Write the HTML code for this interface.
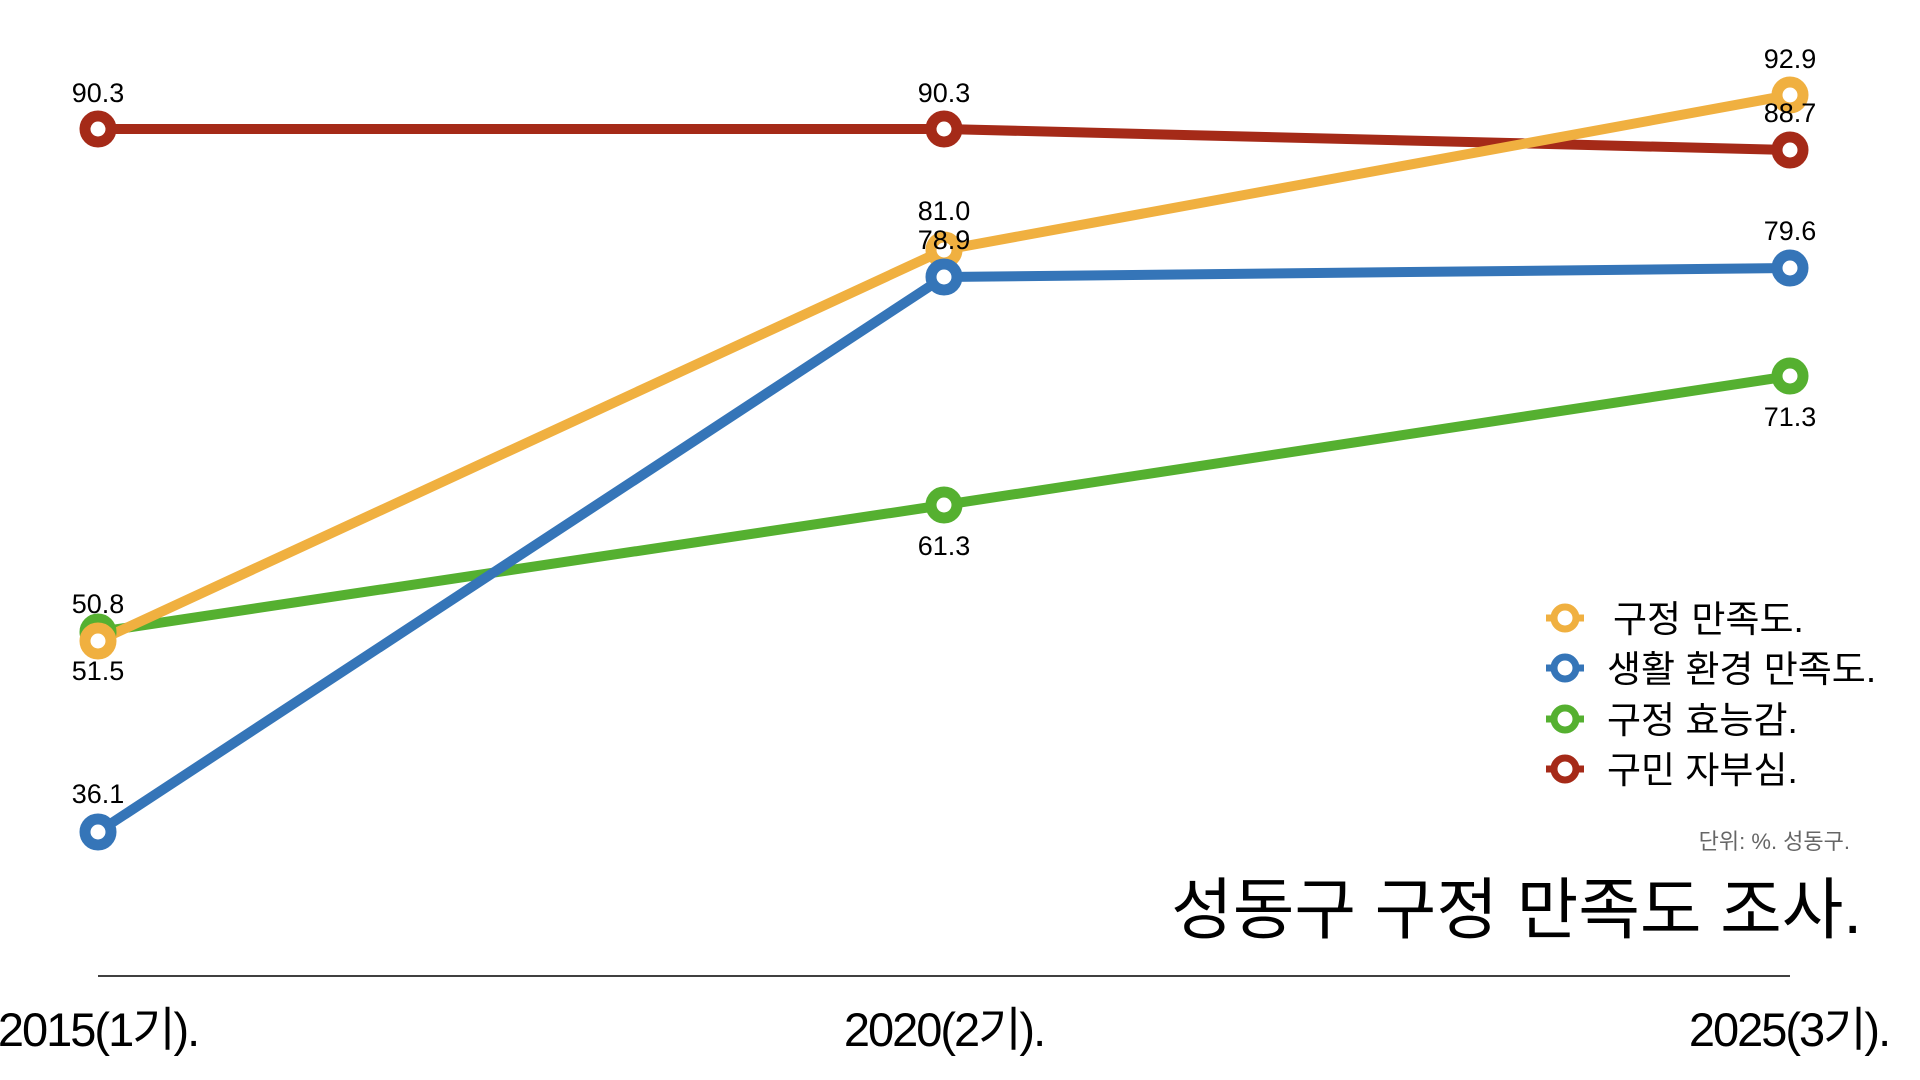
<!DOCTYPE html>
<html><head><meta charset="utf-8"><style>
html,body{margin:0;padding:0;background:#fff;width:1920px;height:1080px;overflow:hidden}
svg text{font-family:"Liberation Sans","Noto Sans CJK KR",sans-serif;fill:#000}
</style></head><body>
<svg width="1920" height="1080" viewBox="0 0 1920 1080" xmlns="http://www.w3.org/2000/svg">
<g fill="none" stroke-width="10" stroke-linejoin="round">
<polyline stroke="#A52A18" points="98,129 944,129 1790,150"/>
<polyline stroke="#55B030" points="98,632 944,505 1790,376"/>
<polyline stroke="#F0B040" points="98,641 944,250 1790,95"/>
<polyline stroke="#3575B8" points="98,832 944,277 1790,268"/>
</g>
<g fill="#fff" stroke-width="11">
<g stroke="#A52A18"><circle cx="98" cy="129" r="13"/><circle cx="944" cy="129" r="13"/><circle cx="1790" cy="150" r="13"/></g>
<g stroke="#55B030"><circle cx="98" cy="632" r="13"/><circle cx="944" cy="505" r="13"/><circle cx="1790" cy="376" r="13"/></g>
<g stroke="#F0B040"><circle cx="98" cy="641" r="13"/><circle cx="944" cy="250" r="13"/><circle cx="1790" cy="95" r="13"/></g>
<g stroke="#3575B8"><circle cx="98" cy="832" r="13"/><circle cx="944" cy="277" r="13"/><circle cx="1790" cy="268" r="13"/></g>
</g>
<g font-size="27" text-anchor="middle">
<text x="98" y="102">90.3</text><text x="944" y="102">90.3</text>
<text x="1790" y="68">92.9</text><text x="1790" y="122">88.7</text>
<text x="944" y="220">81.0</text><text x="944" y="249">78.9</text>
<text x="1790" y="240">79.6</text><text x="1790" y="426">71.3</text>
<text x="944" y="555">61.3</text>
<text x="98" y="613">50.8</text><text x="98" y="680">51.5</text>
<text x="98" y="803">36.1</text>
</g>
<g stroke-width="7" fill="#fff">
<g stroke="#F0B040"><line x1="1546" y1="618" x2="1584" y2="618"/><circle cx="1565" cy="618" r="11"/></g>
<g stroke="#3575B8"><line x1="1546" y1="668" x2="1584" y2="668"/><circle cx="1565" cy="668" r="11"/></g>
<g stroke="#55B030"><line x1="1546" y1="719" x2="1584" y2="719"/><circle cx="1565" cy="719" r="11"/></g>
<g stroke="#A52A18"><line x1="1546" y1="769" x2="1584" y2="769"/><circle cx="1565" cy="769" r="11"/></g>
</g>
<g font-size="37">
<text x="1613" y="632">구정 만족도.</text>
<text x="1607" y="682">생활 환경 만족도.</text>
<text x="1607" y="733">구정 효능감.</text>
<text x="1607" y="783">구민 자부심.</text>
</g>
<text x="1850" y="849" font-size="22" text-anchor="end" style="fill:#666">단위: %. 성동구.</text>
<text x="1862" y="933" font-size="67" text-anchor="end">성동구 구정 만족도 조사.</text>
<line x1="98" y1="976" x2="1790" y2="976" stroke="#000" stroke-width="1.5"/>
<g font-size="47" text-anchor="middle" letter-spacing="-2">
<text x="98" y="1046">2015(1기).</text>
<text x="944" y="1046">2020(2기).</text>
<text x="1789" y="1046">2025(3기).</text>
</g>
</svg>
</body></html>
